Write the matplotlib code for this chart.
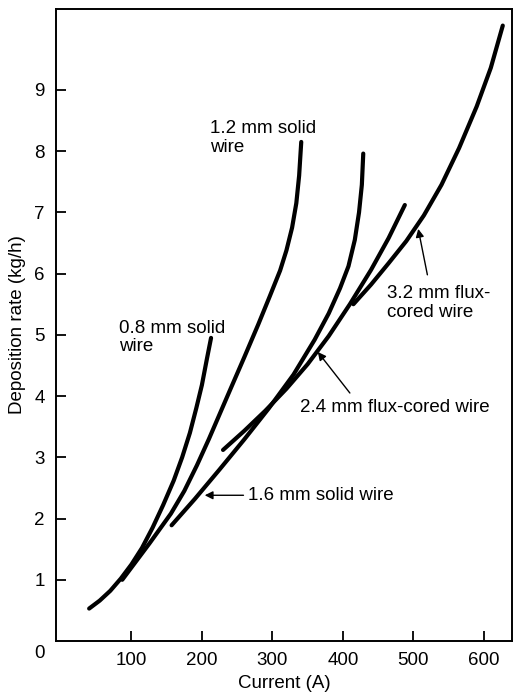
import matplotlib
matplotlib.use("Agg")
import matplotlib.pyplot as plt

# deposition rate curves (current A, rate kg/h)
wire_08_x = [40, 55, 70, 85, 100, 115, 130, 145, 160, 172, 183, 192, 200, 207, 213]
wire_08_y = [0.53, 0.66, 0.82, 1.02, 1.25, 1.52, 1.85, 2.22, 2.62, 3.0, 3.4, 3.8, 4.18, 4.6, 4.95]

wire_12_x = [87, 126, 156, 175, 193, 210, 225, 240, 260, 280, 296, 311, 320, 328, 334, 338, 341]
wire_12_y = [1.0, 1.6, 2.08, 2.45, 2.87, 3.3, 3.7, 4.1, 4.63, 5.17, 5.62, 6.05, 6.38, 6.75, 7.15, 7.6, 8.15]

wire_16_x = [157, 190, 225, 260, 295, 330, 360, 380, 396, 408, 417, 423, 427, 429]
wire_16_y = [1.89, 2.32, 2.8, 3.29, 3.8, 4.35, 4.92, 5.35, 5.76, 6.12, 6.55, 7.0, 7.45, 7.96]

wire_24_x = [230, 260, 290, 320, 350, 380, 410, 440, 465, 488]
wire_24_y = [3.12, 3.43, 3.76, 4.12, 4.52, 4.98, 5.5, 6.06, 6.58, 7.12]

wire_32_x = [415, 440, 465, 490, 515, 540, 565, 590, 610, 627]
wire_32_y = [5.5, 5.82, 6.17, 6.53, 6.95, 7.45, 8.05, 8.73, 9.36, 10.05]

x_ticks = [100, 200, 300, 400, 500, 600]
y_ticks = [1, 2, 3, 4, 5, 6, 7, 8, 9]

plt.rcParams['font.family'] = ['Liberation Sans', 'DejaVu Sans']
plt.rcParams['font.size'] = 13.5

fig = plt.figure(figsize=(5.14, 6.96), dpi=100)
ax = fig.add_axes([0.109, 0.079, 0.887, 0.908])

for xs, ys in [(wire_08_x, wire_08_y), (wire_12_x, wire_12_y), (wire_16_x, wire_16_y),
               (wire_24_x, wire_24_y), (wire_32_x, wire_32_y)]:
    ax.plot(xs, ys, color='black', lw=3.0, solid_capstyle='round', solid_joinstyle='round')

ax.set_xlim(-7, 640)
ax.set_ylim(0, 10.32)
ax.set_xticks(x_ticks)
ax.set_yticks(y_ticks)
ax.tick_params(direction='in', length=7, width=1.3, pad=8)
for s in ax.spines.values():
    s.set_linewidth(1.4)
ax.annotate('0', xy=(0, 0), xycoords='axes fraction', xytext=(-8, -9),
            textcoords='offset points', ha='right', va='center')

ax.set_xlabel('Current (A)', labelpad=4)
ax.set_ylabel('Deposition rate (kg/h)', labelpad=6)

# curve labels
ax.text(82, 5.24, '0.8 mm solid\nwire', va='top', ha='left', linespacing=1.1)
ax.text(211, 8.5, '1.2 mm solid\nwire', va='top', ha='left', linespacing=1.1)
ax.text(462, 5.81, '3.2 mm flux-\ncored wire', va='top', ha='left', linespacing=1.1)
ax.text(339, 3.82, '2.4 mm flux-cored wire', va='center', ha='left')
ax.text(265, 2.38, '1.6 mm solid wire', va='center', ha='left')

arrow = dict(arrowstyle='-|>', color='black', lw=1.0, mutation_scale=12, shrinkA=0, shrinkB=0)
ax.annotate('', xy=(204, 2.38), xytext=(259, 2.38), arrowprops=arrow)
ax.annotate('', xy=(364.5, 4.72), xytext=(410, 4.05), arrowprops=arrow)
ax.annotate('', xy=(507, 6.73), xytext=(520, 5.98), arrowprops=arrow)

fig.savefig('out.png', dpi=100)
